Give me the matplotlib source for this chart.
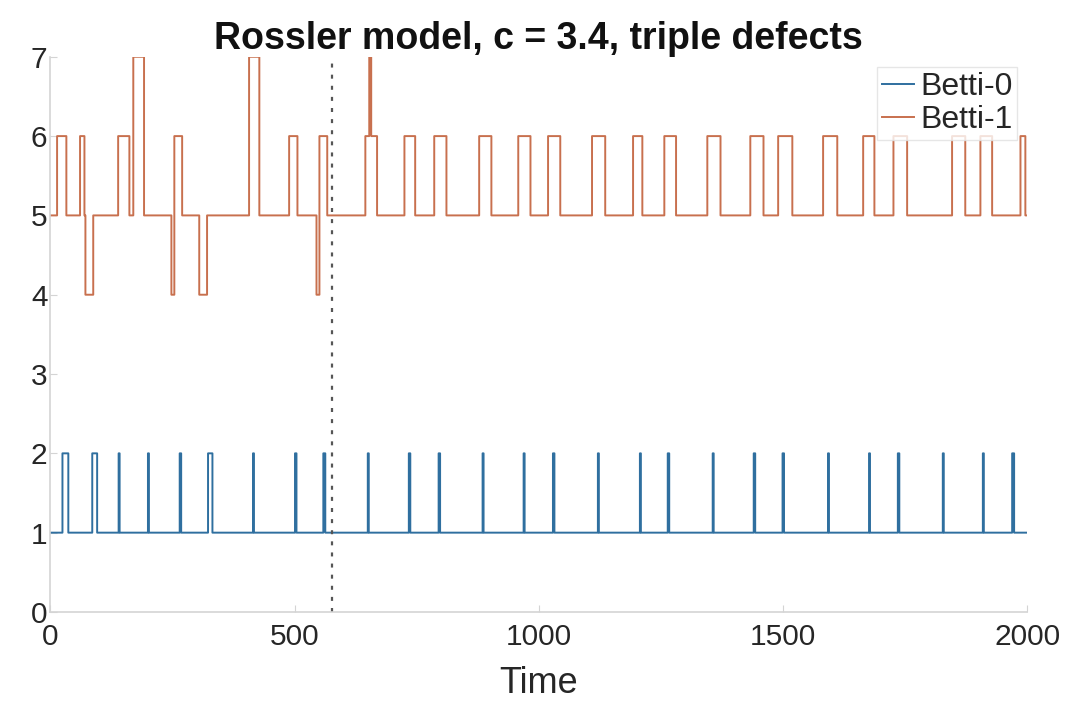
import matplotlib
matplotlib.use("Agg")
import matplotlib.pyplot as plt
import numpy as np

# pulse events: (start time, end time, level)
betti0_events = [
    (25, 37, 2), (86, 96, 2), (140, 142, 2), (200, 202, 2), (265, 268, 2),
    (323, 332, 2), (415, 417, 2), (501, 504, 2), (559, 563, 2), (650, 652, 2),
    (734, 737, 2), (795, 798, 2), (885, 887, 2), (969, 971, 2), (1029, 1032, 2),
    (1121, 1123, 2), (1207, 1209, 2), (1264, 1267, 2), (1356, 1358, 2),
    (1440, 1443, 2), (1499, 1502, 2), (1592, 1594, 2), (1676, 1678, 2),
    (1735, 1738, 2), (1827, 1829, 2), (1909, 1911, 2), (1969, 1973, 2),
]
betti1_events = [
    (14, 33, 6), (61, 70, 6), (72, 88, 4), (139, 162, 6), (170, 192, 7),
    (248, 254, 4), (254, 270, 6), (305, 321, 4), (407, 428, 7), (489, 506, 6),
    (545, 551, 4), (551, 567, 6), (645, 653, 6), (653, 657, 7), (657, 669, 6),
    (725, 747, 6), (786, 811, 6), (878, 903, 6), (958, 983, 6), (1019, 1044, 6),
    (1109, 1136, 6), (1193, 1212, 6), (1257, 1281, 6), (1345, 1372, 6),
    (1433, 1460, 6), (1490, 1519, 6), (1582, 1611, 6), (1664, 1687, 6),
    (1726, 1754, 6), (1846, 1873, 6), (1904, 1928, 6), (1986, 1996, 6),
]
betti0_base = 1
betti1_base = 5
t_end = 2000
t_defect = 577

def series(events, base):
    t = np.arange(0, t_end + 0.5, 0.5)
    y = np.full_like(t, base, dtype=float)
    for s, e, lev in events:
        y[(t >= s) & (t < e)] = lev
    return t, y

plt.rcParams['font.family'] = ['Liberation Sans', 'DejaVu Sans']

fig = plt.figure(figsize=(10.69, 7.01), dpi=100)
ax = fig.add_axes([0.047, 0.127, 0.914, 0.792])

t0, y0 = series(betti0_events, betti0_base)
t1, y1 = series(betti1_events, betti1_base)
ax.plot(t0, y0, drawstyle='steps-post', color='#2f6f9f', lw=1.4, label='Betti-0')
ax.plot(t1, y1, drawstyle='steps-post', color='#c8704e', lw=1.4, label='Betti-1')
ax.axvline(t_defect, color='#555555', lw=1.6, dashes=(1.8, 3.2))

ax.set_xlim(0, t_end)
ax.set_ylim(0, 7)
ax.set_xticks([0, 500, 1000, 1500, 2000])
ax.set_yticks(range(8))

for side in ['top', 'right']:
    ax.spines[side].set_visible(False)
for side in ['left', 'bottom']:
    ax.spines[side].set_color('#d4d4d4')
    ax.spines[side].set_linewidth(1.2)
ax.tick_params(direction='in', length=5, color='#d4d4d4', labelsize=21.5,
               labelcolor='#262626')
ax.tick_params(axis='x', pad=8)
ax.tick_params(axis='y', pad=2)

ax.set_xlabel('Time', fontsize=26, color='#262626', labelpad=11)
ax.set_title('Rossler model, c = 3.4, triple defects', fontsize=27,
             fontweight='bold', color='#111111', pad=0)

leg = ax.legend(loc='upper right', fontsize=23, handlelength=1.0,
                handletextpad=0.2, borderpad=0.15, labelspacing=0.1,
                fancybox=False, borderaxespad=0.32)
leg.get_frame().set_edgecolor('#e0e0e0')
leg.get_frame().set_linewidth(1.0)
for text in leg.get_texts():
    text.set_color('#262626')

plt.savefig('out.png', dpi=100)
